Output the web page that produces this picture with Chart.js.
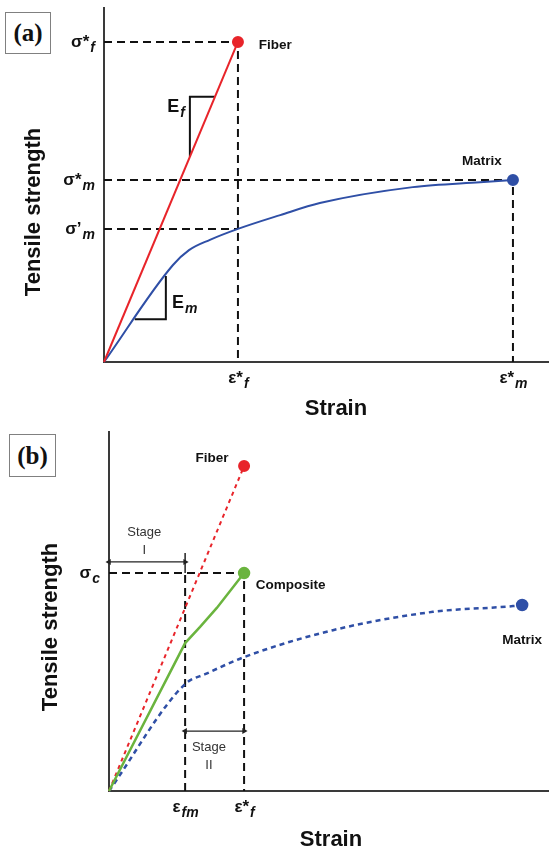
<!DOCTYPE html>
<html>
<head>
<meta charset="utf-8">
<script src="https://cdn.jsdelivr.net/npm/chart.js@4.4.0/dist/chart.umd.min.js"></script>
<style>
  body { margin: 0; background: #fff; width: 549px; height: 852px; overflow: hidden; position: relative; }
  canvas { position: absolute; left: 0; }
  #chartA { top: 0; }
  #chartB { top: 426px; }
  .tag { position: absolute; border: 1px solid #808080; box-sizing: border-box; text-align: center;
         font: bold 25px "Liberation Serif", "Times New Roman", serif; color: #111; }
</style>
</head>
<body>
<div class="tag" style="left:5px;top:12px;width:46px;height:42px;line-height:40px">(a)</div>
<div class="tag" style="left:9px;top:434px;width:47px;height:43px;line-height:41px">(b)</div>
<canvas id="chartA" width="549" height="426"></canvas>
<canvas id="chartB" width="549" height="426"></canvas>
<script>
// ---- (a) single fibre vs. matrix ----
const fiberStrainA = [0, 30.1];
const fiberStressA = [0, 90.4];
const matrixStrainA = [0, 15.5, 19.1, 23.8, 30.1, 39.6, 48.5, 69.4, 84.5, 91.9];
const matrixStressA = [0, 27.4, 31.6, 34.5, 37.6, 41.5, 44.9, 49.4, 50.8, 51.4];
// slope triangles for E_f and E_m
const efStrain = [19.3, 19.3, 24.9];
const efStress = [58.0, 74.9, 74.9];
const emStrain = [6.9, 13.9, 13.9];
const emStress = [12.1, 12.1, 24.3];
// characteristic values
const sigmaFStar = 90.4, sigmaMStar = 51.4, sigmaMPrime = 37.6;
const epsFStar = 30.1, epsMStar = 91.9;
const yTickValuesA = [sigmaFStar, sigmaMStar, sigmaMPrime];
const yTickLabelsA = [['σ*', 'f'], ['σ*', 'm'], ['σ’', 'm']];
const xTickValuesA = [epsFStar, epsMStar];
const xTickLabelsA = [['ε*', 'f'], ['ε*', 'm']];

// ---- (b) composite ----
const fiberStrainB = [0, 30.7];
const fiberStressB = [0, 90.5];
const compStrainB = [0, 17.3, 20.7, 24.5, 30.7];
const compStressB = [0, 41.2, 45.7, 51.0, 60.7];
const matrixStrainB = [0, 17.3, 22.0, 30.7, 50.9, 73.6, 91.8, 93.9];
const matrixStressB = [0, 29.8, 32.6, 37.3, 44.8, 49.9, 51.5, 51.8];
const sigmaC = 60.7, epsFM = 17.3, epsFStarB = 30.7;
const stageILevel = 63.8, stageIILevel = 16.7;
const yTickValuesB = [sigmaC];
const yTickLabelsB = [['σ', 'c']];
const xTickValuesB = [epsFM, epsFStarB];
const xTickLabelsB = [['ε', 'fm'], ['ε*', 'f']];

const RED = '#e8242a', BLUE = '#2f4fa6', GREEN = '#6ab43e', INK = '#111';
const SANS = '"Liberation Sans", Arial, sans-serif';

const pts = (xs, ys) => xs.map((x, i) => ({ x: x, y: ys[i] }));
const endDot = n => ctx => (ctx.dataIndex === n - 1 ? 5 : 0);

function line(label, xs, ys, color, extra) {
  return Object.assign({
    label: label, data: pts(xs, ys), borderColor: color, backgroundColor: color,
    borderWidth: 2, pointRadius: 0, tension: 0, clip: false
  }, extra || {});
}
function guide(xs, ys) {
  return line('guide', xs, ys, INK, { borderDash: [8, 5], order: 5 });
}
function arrow(xs, ys) {
  return line('arrow', xs, ys, '#222', {
    borderWidth: 1.3, pointStyle: 'triangle', pointRadius: 3.5,
    pointRotation: [-90, 90], pointBorderWidth: 0, order: 4
  });
}

// base text plus italic subscript
function subText(ctx, x, y, base, sub, size, align) {
  const f1 = 'bold ' + size + 'px ' + SANS;
  const f2 = 'italic bold ' + Math.round(size * 0.8) + 'px ' + SANS;
  ctx.font = f1; const w1 = ctx.measureText(base).width;
  ctx.font = f2; const w2 = ctx.measureText(sub).width;
  let x0 = x;
  if (align === 'right') x0 = x - w1 - w2;
  if (align === 'center') x0 = x - (w1 + w2) / 2;
  ctx.textAlign = 'left'; ctx.textBaseline = 'middle';
  ctx.font = f1; ctx.fillText(base, x0, y);
  ctx.font = f2; ctx.fillText(sub, x0 + w1 + 1, y + size * 0.35);
}

function labelsPlugin(cfg) {
  return {
    id: 'schematicLabels',
    afterDatasetsDraw(chart) {
      const ctx = chart.ctx, xs = chart.scales.x, ys = chart.scales.y, area = chart.chartArea;
      ctx.save();
      ctx.fillStyle = INK;
      cfg.yTicks.forEach((v, i) => {
        subText(ctx, area.left - 10, ys.getPixelForValue(v), cfg.yLabels[i][0], cfg.yLabels[i][1], 17, 'right');
      });
      cfg.xTicks.forEach((v, i) => {
        subText(ctx, xs.getPixelForValue(v), area.bottom + 16, cfg.xLabels[i][0], cfg.xLabels[i][1], 17, 'center');
      });
      cfg.texts.forEach(t => {
        const px = xs.getPixelForValue(t.x), py = ys.getPixelForValue(t.y);
        if (t.sub) { subText(ctx, px, py, t.text, t.sub, t.size, t.align || 'left'); return; }
        ctx.font = (t.weight || 'bold') + ' ' + t.size + 'px ' + SANS;
        ctx.textAlign = t.align || 'center'; ctx.textBaseline = 'middle';
        ctx.fillStyle = t.color || INK;
        ctx.fillText(t.text, px, py);
        ctx.fillStyle = INK;
      });
      // axis titles
      ctx.font = 'bold 22px ' + SANS; ctx.textAlign = 'center'; ctx.textBaseline = 'middle';
      ctx.fillText('Strain', cfg.xTitle[0], cfg.xTitle[1]);
      ctx.translate(cfg.yTitle[0], cfg.yTitle[1]); ctx.rotate(-Math.PI / 2);
      ctx.fillText('Tensile strength', 0, 0);
      ctx.restore();
    }
  };
}

function axis() {
  return {
    type: 'linear', min: 0, max: 100,
    grid: { display: false, drawTicks: false },
    ticks: { display: false },
    border: { display: true, color: '#3a3a3a', width: 2 }
  };
}

function makeChart(id, datasets, pad, cfg) {
  return new Chart(document.getElementById(id), {
    type: 'line',
    data: { datasets: datasets },
    options: {
      responsive: false, animation: false,
      layout: { padding: pad, autoPadding: false },
      plugins: { legend: { display: false }, tooltip: { enabled: false } },
      scales: { x: axis(), y: axis() }
    },
    plugins: [labelsPlugin(cfg)]
  });
}

makeChart('chartA', [
  line('Fiber', fiberStrainA, fiberStressA, RED, { pointRadius: endDot(fiberStrainA.length) }),
  line('Matrix', matrixStrainA, matrixStressA, BLUE, { cubicInterpolationMode: 'monotone', pointRadius: endDot(matrixStrainA.length) }),
  line('Ef', efStrain, efStress, INK, { order: 3 }),
  line('Em', emStrain, emStress, INK, { order: 3 }),
  guide([0, epsFStar, epsFStar], [sigmaFStar, sigmaFStar, 0]),
  guide([0, epsMStar, epsMStar], [sigmaMStar, sigmaMStar, 0]),
  guide([0, epsFStar], [sigmaMPrime, sigmaMPrime])
], { left: 104, top: 8, right: 0, bottom: 64 }, {
  yTicks: yTickValuesA, yLabels: yTickLabelsA,
  xTicks: xTickValuesA, xLabels: xTickLabelsA,
  texts: [
    { text: 'Fiber', x: 38.5, y: 89.5, size: 13.5 },
    { text: 'Matrix', x: 84.9, y: 56.8, size: 13.5 },
    { text: 'E', sub: 'f', x: 14.2, y: 72.0, size: 18 },
    { text: 'E', sub: 'm', x: 15.3, y: 16.7, size: 18 }
  ],
  xTitle: [336, 409], yTitle: [34, 212]
});

makeChart('chartB', [
  line('Composite', compStrainB, compStressB, GREEN, { borderWidth: 2.5, pointRadius: endDot(compStrainB.length) }),
  line('Fiber', fiberStrainB, fiberStressB, RED, { borderDash: [4, 4], pointRadius: endDot(fiberStrainB.length) }),
  line('Matrix', matrixStrainB, matrixStressB, BLUE, { borderWidth: 2.5, borderDash: [5, 4], cubicInterpolationMode: 'monotone', pointRadius: endDot(matrixStrainB.length) }),
  guide([0, epsFStarB, epsFStarB], [sigmaC, sigmaC, 0]),
  guide([epsFM, epsFM], [0, sigmaC]),
  line('cap', [epsFM, epsFM], [sigmaC, 66.3], '#222', { borderWidth: 1.5, order: 4 }),
  arrow([0, epsFM], [stageILevel, stageILevel]),
  arrow([epsFM, epsFStarB], [stageIILevel, stageIILevel])
], { left: 109, top: 6, right: 0, bottom: 61 }, {
  yTicks: yTickValuesB, yLabels: yTickLabelsB,
  xTicks: xTickValuesB, xLabels: xTickLabelsB,
  texts: [
    { text: 'Fiber', x: 23.4, y: 92.8, size: 13.5 },
    { text: 'Composite', x: 41.3, y: 57.4, size: 13.5 },
    { text: 'Matrix', x: 93.9, y: 42.1, size: 13.5 },
    { text: 'Stage', x: 8.0, y: 71.9, size: 13, weight: 'normal', color: '#333' },
    { text: 'I', x: 8.0, y: 67.1, size: 13, weight: 'normal', color: '#333' },
    { text: 'Stage', x: 22.7, y: 12.0, size: 13, weight: 'normal', color: '#333' },
    { text: 'II', x: 22.7, y: 7.0, size: 13, weight: 'normal', color: '#333' }
  ],
  xTitle: [331, 414], yTitle: [51, 201]
});
</script>
</body>
</html>
